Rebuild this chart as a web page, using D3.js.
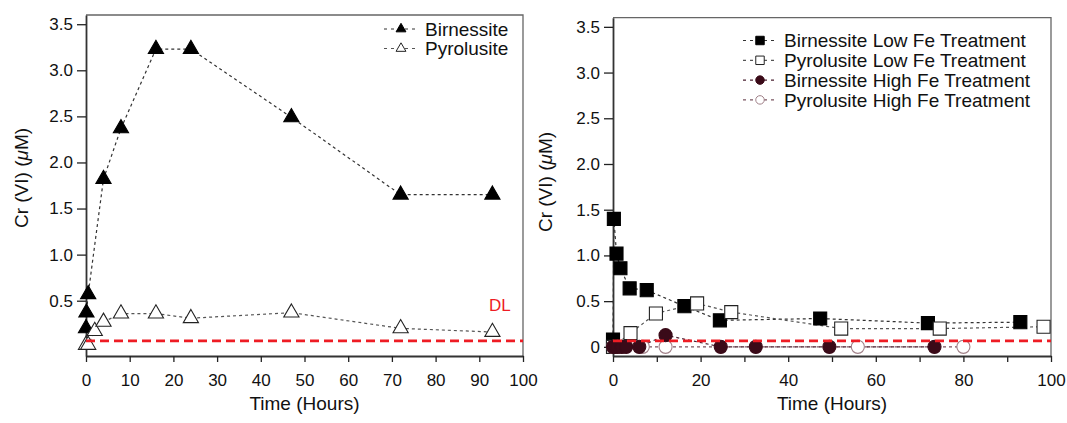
<!DOCTYPE html>
<html>
<head>
<meta charset="utf-8">
<script src="https://cdn.jsdelivr.net/npm/d3@7"></script>
<style>
  body { margin: 0; background: #fff; }
  svg text { font-family: "Liberation Sans", Arial, Helvetica, sans-serif; fill: #111; }
</style>
</head>
<body>
<svg id="chart" width="1067" height="423"></svg>
<script>
// Left panel: Mn oxides alone
const leftBirnTime = [0, 0.1, 0.5, 4, 8, 16, 24, 47, 72, 93];
const leftBirnCr = [0.2, 0.37, 0.57, 1.82, 2.37, 3.23, 3.23, 2.49, 1.65, 1.65];
const leftPyroTime = [0, 0.5, 2, 4, 8, 16, 24, 47, 72, 93];
const leftPyroCr = [0.02, 0.02, 0.17, 0.27, 0.36, 0.36, 0.31, 0.37, 0.2, 0.16];

// Right panel: Fe treatments
const birnLowTime = [0, 0.2, 0.8, 1.7, 3.8, 7.7, 16.3, 24.4, 47.3, 71.9, 93];
const birnLowCr = [0.08, 1.40, 1.02, 0.86, 0.64, 0.62, 0.445, 0.29, 0.31, 0.26, 0.27];
const pyroLowTime = [0, 4, 9.8, 19.2, 27, 52.1, 74.6, 98.3];
const pyroLowCr = [0, 0.15, 0.365, 0.475, 0.38, 0.2, 0.2, 0.22];
const birnHighTime = [0, 0.5, 1, 2, 3, 6, 12, 24.6, 32.6, 49.4, 73.4];
const birnHighCr = [0, 0, 0, 0, 0, 0, 0.128, 0, 0, 0, 0];
const pyroHighTime = [0, 1, 2, 6.8, 12, 55.9, 80];
const pyroHighCr = [0, 0, 0, 0, 0, 0, 0];

const detectionLimit = 0.065;

const leftYTicks = [0.5, 1.0, 1.5, 2.0, 2.5, 3.0, 3.5];
const rightYTicks = [0, 0.5, 1.0, 1.5, 2.0, 2.5, 3.0, 3.5];
const leftXTicks = [0, 10, 20, 30, 40, 50, 60, 70, 80, 90, 100];
const rightXTicks = [0, 20, 40, 60, 80, 100];
const rightXMinor = [10, 30, 50, 70, 90];

const svg = d3.select('#chart');
const zip = (t, v) => t.map((d, i) => [d, v[i]]);

const drawPanel = (o) => {
    const x = d3.scaleLinear().domain([0, 100]).range([o.left, o.right]);
    const y = d3.scaleLinear().domain([-0.1, 3.6]).range([o.bottom, o.top]);
    const g = svg.append('g');

    // thin frame on top / right
    g.append('path')
        .attr('d', `M${o.left},${o.top}H${o.right}V${o.bottom}`)
        .attr('fill', 'none').attr('stroke', '#666').attr('stroke-width', 1.3);

    if (o.minor) {
        g.append('g').attr('transform', `translate(0,${o.bottom})`)
            .call(d3.axisBottom(x).tickValues(o.minor).tickSize(6).tickFormat(''))
            .call(a => a.select('.domain').remove())
            .selectAll('line').attr('stroke', '#222').attr('stroke-width', 1.3);
    }

    const xa = g.append('g').attr('transform', `translate(0,${o.bottom})`)
        .call(d3.axisBottom(x).tickValues(o.xTicks).tickSize(6).tickPadding(12)
            .tickFormat(d3.format('d')).tickSizeOuter(0));
    const ya = g.append('g').attr('transform', `translate(${o.left},0)`)
        .call(d3.axisLeft(y).tickValues(o.yTicks).tickSize(9).tickPadding(4)
            .tickFormat(d => d === 0 ? '0' : d3.format('.1f')(d)).tickSizeOuter(0));
    [xa, ya].forEach(a => {
        a.select('.domain').attr('stroke', '#333').attr('stroke-width', 1.8);
        a.selectAll('.tick line').attr('stroke', '#222').attr('stroke-width', 1.3);
        a.selectAll('.tick text').attr('font-size', 17).attr('fill', '#111')
            .attr('font-family', '"Liberation Sans", Arial, sans-serif');
    });

    // axis titles
    const yt = g.append('text')
        .attr('transform', `translate(${o.yTitleX},${o.yTitleY}) rotate(-90)`)
        .attr('text-anchor', 'middle').attr('font-size', 19);
    yt.append('tspan').text('Cr (VI) (');
    yt.append('tspan').attr('font-style', 'italic').text('μ');
    yt.append('tspan').text('M)');
    g.append('text').attr('x', (o.left + o.right) / 2).attr('y', 410)
        .attr('text-anchor', 'middle').attr('font-size', 19).text('Time (Hours)');

    const line = d3.line().x(d => x(d[0])).y(d => y(d[1]));
    const plot = g.append('g');
    o.drawOrder.forEach(s => {
        plot.append('path').datum(zip(s.t, s.v))
            .attr('d', line).attr('fill', 'none')
            .attr('stroke', s.lineColor).attr('stroke-width', 1.2)
            .attr('stroke-dasharray', '3,3');
    });
    o.drawOrder.forEach(s => {
        plot.selectAll(null).data(zip(s.t, s.v)).join('path')
            .attr('transform', d => `translate(${x(d[0])},${y(d[1])})`)
            .attr('d', d3.symbol(s.symbol, s.size)())
            .attr('fill', s.fill).attr('stroke', s.stroke).attr('stroke-width', 1.1);
    });

    // detection limit
    g.append('line')
        .attr('x1', x(0)).attr('x2', x(100))
        .attr('y1', y(detectionLimit)).attr('y2', y(detectionLimit))
        .attr('stroke', '#ee1c24').attr('stroke-width', 2.8)
        .attr('stroke-dasharray', '9,5');

    // legend
    o.series.forEach((s, i) => {
        const ly = o.legendY + i * o.legendStep;
        const lg = g.append('g').attr('transform', `translate(${o.legendX},${ly})`);
        lg.append('line').attr('x1', -17).attr('x2', 18)
            .attr('stroke', s.lineColor).attr('stroke-width', 1.2)
            .attr('stroke-dasharray', '3,4');
        lg.append('path').attr('d', d3.symbol(s.symbol, s.size * 0.42)())
            .attr('fill', s.fill).attr('stroke', s.stroke).attr('stroke-width', 1);
        lg.append('text').attr('x', 24).attr('y', 6.8)
            .attr('font-size', 19).text(s.name);
    });
    return { x, y, g };
};

const leftSeries = [
    { name: 'Birnessite', t: leftBirnTime, v: leftBirnCr, symbol: d3.symbolTriangle,
      size: 100, fill: '#000', stroke: '#000', lineColor: '#333' },
    { name: 'Pyrolusite', t: leftPyroTime, v: leftPyroCr, symbol: d3.symbolTriangle,
      size: 100, fill: '#fff', stroke: '#222', lineColor: '#555' },
];

const left = drawPanel({
    left: 86, right: 523, top: 15, bottom: 356,
    yTicks: leftYTicks, xTicks: leftXTicks,
    yTitleX: 28, yTitleY: 178,
    legendX: 401, legendY: 29, legendStep: 19.5,
    series: leftSeries, drawOrder: leftSeries,
});

left.g.append('text').attr('x', left.x(94.7)).attr('y', 311)
    .attr('text-anchor', 'middle').attr('font-size', 17)
    .style('fill', '#ee1c24').text('DL');

const birnLow = { name: 'Birnessite Low Fe Treatment', t: birnLowTime, v: birnLowCr,
    symbol: d3.symbolSquare, size: 170, fill: '#000', stroke: '#000', lineColor: '#333' };
const pyroLow = { name: 'Pyrolusite Low Fe Treatment', t: pyroLowTime, v: pyroLowCr,
    symbol: d3.symbolSquare, size: 170, fill: '#fff', stroke: '#222', lineColor: '#555' };
const birnHigh = { name: 'Birnessite High Fe Treatment', t: birnHighTime, v: birnHighCr,
    symbol: d3.symbolCircle, size: 135, fill: '#3a0a18', stroke: '#3a0a18', lineColor: '#4a2030' };
const pyroHigh = { name: 'Pyrolusite High Fe Treatment', t: pyroHighTime, v: pyroHighCr,
    symbol: d3.symbolCircle, size: 135, fill: '#fff', stroke: '#a08088', lineColor: '#7a5560' };

drawPanel({
    left: 613, right: 1051, top: 17.7, bottom: 356,
    yTicks: rightYTicks, xTicks: rightXTicks, minor: rightXMinor,
    yTitleX: 552, yTitleY: 182,
    legendX: 760, legendY: 40.5, legendStep: 19.8,
    series: [birnLow, pyroLow, birnHigh, pyroHigh],
    drawOrder: [birnLow, pyroLow, pyroHigh, birnHigh],
});
</script>
</body>
</html>
